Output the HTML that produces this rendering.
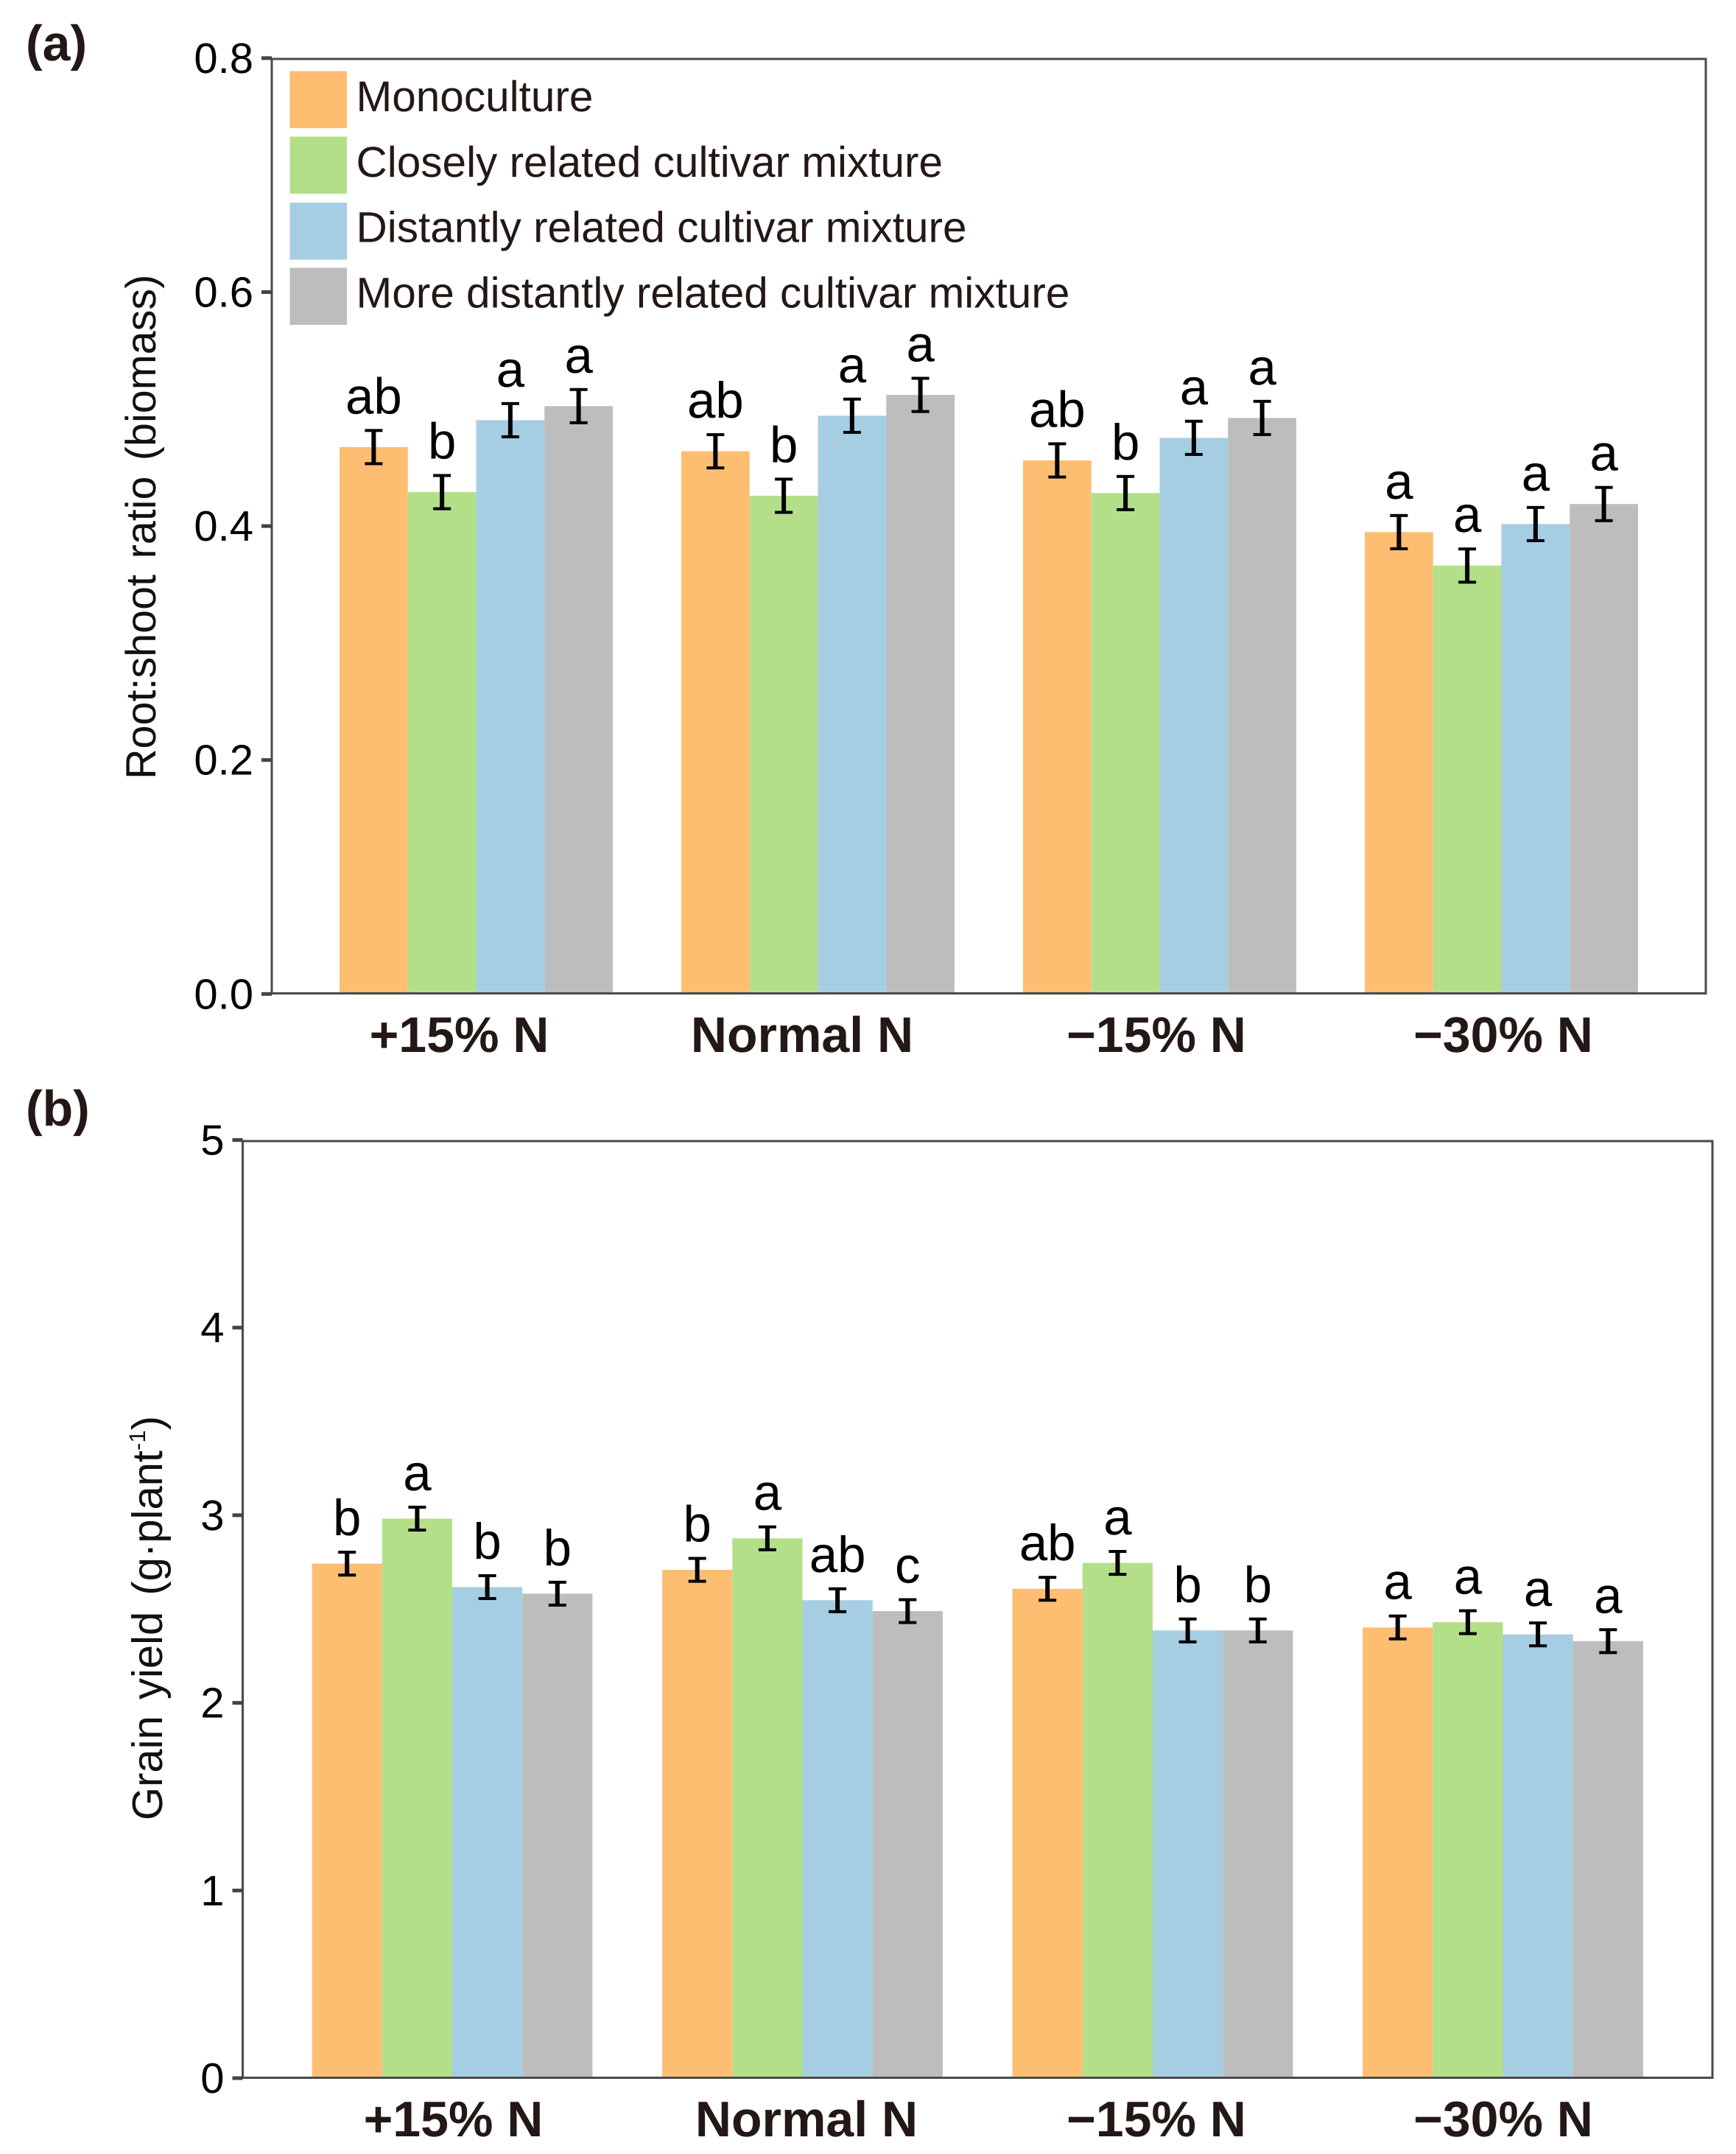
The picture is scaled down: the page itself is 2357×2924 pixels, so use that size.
<!DOCTYPE html>
<html lang="en">
<head>
<meta charset="utf-8">
<title>Root:shoot ratio and grain yield by nitrogen level</title>
<style>
html,body{margin:0;padding:0;background:#fff;}
svg{display:block;}
text{font-family:"Liberation Sans",Arial,sans-serif;text-rendering:geometricPrecision;}
</style>
</head>
<body>
<svg id="figure" xmlns="http://www.w3.org/2000/svg" width="2357" height="2924" viewBox="0 0 2357 2924">
  <rect x="0" y="0" width="2357" height="2924" fill="#fff"/>
  <g id="chart-a"></g>
  <g id="chart-b"></g>

  <text x="35" y="82" font-size="68" font-weight="700" fill="#231815">(a)</text>
  <text x="35" y="1528" font-size="68" font-weight="700" fill="#231815">(b)</text>

  <text transform="translate(211 1058) rotate(-90)" font-size="57.5" word-spacing="5.5" fill="#111">Root:shoot ratio (biomass)</text>
  <text transform="translate(220 2471) rotate(-90)" font-size="58" word-spacing="6" fill="#111">Grain yield (g·plant<tspan font-size="31" dy="-23">-1</tspan><tspan dy="23">)</tspan></text>

  <g>
    <g>
      <rect x="393.5" y="96.5" width="77.5" height="77.5" fill="#FDBE72"/>
      <text x="483.5" y="151" font-size="58.5" fill="#231815">Monoculture</text>
    </g>
    <g>
      <rect x="393.5" y="185.5" width="77.5" height="77.5" fill="#B3DF89"/>
      <text x="483.5" y="240" font-size="58.5" fill="#231815">Closely related cultivar mixture</text>
    </g>
    <g>
      <rect x="393.5" y="275" width="77.5" height="77.5" fill="#A6CEE2"/>
      <text x="483.5" y="328.5" font-size="58.5" fill="#231815">Distantly related cultivar mixture</text>
    </g>
    <g>
      <rect x="393.5" y="363.5" width="77.5" height="77.5" fill="#BDBDBD"/>
      <text x="483.5" y="417.5" font-size="58.5" fill="#231815">More distantly related cultivar mixture</text>
    </g>
  </g>
</svg>

<script>
// Shared categories
var categories = ['+15% N', 'Normal N', '\u221215% N', '\u221230% N'];

// Panel (a): root:shoot ratio, one array per cultivar treatment, one value per N level
var rootShootMonoculture = [0.467, 0.4634, 0.4556, 0.3943];
var rootShootClosely = [0.4285, 0.4254, 0.4277, 0.3657];
var rootShootDistantly = [0.490, 0.4938, 0.4749, 0.4012];
var rootShootMoreDistantly = [0.502, 0.5116, 0.4919, 0.4183];
var rootShootErrors = [0.0142, 0.0142, 0.0142, 0.0142];
var rootShootLetters1 = ['ab', 'ab', 'ab', 'a'];
var rootShootLetters2 = ['b', 'b', 'b', 'a'];
var rootShootLetters3 = ['a', 'a', 'a', 'a'];
var rootShootLetters4 = ['a', 'a', 'a', 'a'];
var rootShootTicks = ['0.0', '0.2', '0.4', '0.6', '0.8'];

// Panel (b): grain yield
var yieldMonoculture = [2.74, 2.707, 2.606, 2.40];
var yieldClosely = [2.98, 2.875, 2.744, 2.428];
var yieldDistantly = [2.615, 2.545, 2.384, 2.363];
var yieldMoreDistantly = [2.58, 2.487, 2.384, 2.327];
var yieldErrors = [0.061, 0.061, 0.061, 0.061];
var yieldLetters1 = ['b', 'b', 'ab', 'a'];
var yieldLetters2 = ['a', 'a', 'a', 'a'];
var yieldLetters3 = ['b', 'ab', 'b', 'a'];
var yieldLetters4 = ['b', 'c', 'b', 'a'];
var yieldTicks = ['0', '1', '2', '3', '4', '5'];

var seriesKeys = ['monoculture', 'closely-related', 'distantly-related', 'more-distantly-related'];
var seriesColors = ['#FDBE72', '#B3DF89', '#A6CEE2', '#BDBDBD'];
var SVGNS = 'http://www.w3.org/2000/svg';

function drawChart(cfg) {
  var root = document.getElementById(cfg.id);

  function xGroup(i) { return cfg.x0 + i * cfg.step; }
  function xBar(i, s) { return xGroup(i) + s * cfg.barW; }
  function yVal(v) { return cfg.base - v * cfg.pxPerUnit; }

  cfg.series.forEach(function (values, s) {
    values.forEach(function (v, i) {
      var bar = document.createElementNS(SVGNS, 'rect');
      
      
      bar.setAttribute('data-series', seriesKeys[s]);
      bar.setAttribute('x', xBar(i, s));
      bar.setAttribute('y', yVal(v));
      bar.setAttribute('width', cfg.barW);
      bar.setAttribute('height', cfg.base - yVal(v));
      bar.setAttribute('fill', seriesColors[s]);
      root.appendChild(bar);
    });
  });

  // plot frame above bars
  var frame = document.createElementNS(SVGNS, 'rect');
  
  
  frame.setAttribute('x', cfg.left);
  frame.setAttribute('y', cfg.top);
  frame.setAttribute('width', cfg.right - cfg.left);
  frame.setAttribute('height', cfg.base - cfg.top);
  frame.setAttribute('fill', 'none');
  frame.setAttribute('stroke', '#4a4a4a');
  frame.setAttribute('stroke-width', '3');
  root.appendChild(frame);

  cfg.ticks.forEach(function (label) {
    var v = parseFloat(label);
    var ty = yVal(v) + cfg.tickShift;
    var tick = document.createElementNS(SVGNS, 'rect');
    
    
    tick.setAttribute('x', cfg.left - 14);
    tick.setAttribute('y', ty - 2.5);
    tick.setAttribute('width', 14);
    tick.setAttribute('height', 5);
    tick.setAttribute('fill', '#444');
    root.appendChild(tick);

    var t = document.createElementNS(SVGNS, 'text');
    
    
    t.setAttribute('x', cfg.left - 25);
    t.setAttribute('y', ty + 20);
    t.setAttribute('text-anchor', 'end');
    t.setAttribute('font-size', '58');
    t.setAttribute('fill', '#000');
    t.textContent = label;
    root.appendChild(t);
  });

  cfg.series.forEach(function (values, s) {
    values.forEach(function (v, i) {
      var cx = xBar(i, s) + cfg.barW / 2;
      var hi = yVal(v + cfg.errors[i]);
      var lo = yVal(v - cfg.errors[i]);

      var stem = document.createElementNS(SVGNS, 'rect');
      
      
      stem.setAttribute('x', cx - 3);
      stem.setAttribute('y', hi);
      stem.setAttribute('width', 6);
      stem.setAttribute('height', lo - hi);
      stem.setAttribute('fill', '#000');
      root.appendChild(stem);

      [hi, lo].forEach(function (yy) {
        var cap = document.createElementNS(SVGNS, 'rect');
        
        
        cap.setAttribute('x', cx - 12);
        cap.setAttribute('y', yy - 2);
        cap.setAttribute('width', 24);
        cap.setAttribute('height', 4);
        cap.setAttribute('fill', '#000');
        root.appendChild(cap);
      });

      var letter = document.createElementNS(SVGNS, 'text');
      
      
      letter.setAttribute('x', cx);
      letter.setAttribute('y', hi - 2 - 21);
      letter.setAttribute('text-anchor', 'middle');
      letter.setAttribute('font-size', '69');
      letter.setAttribute('fill', '#000');
      letter.textContent = cfg.letters[s][i];
      root.appendChild(letter);
    });
  });

  categories.forEach(function (name, i) {
    var g = document.createElementNS(SVGNS, 'text');
    
    
    g.setAttribute('x', xGroup(i) + 2 * cfg.barW + cfg.labelNudge[i]);
    g.setAttribute('y', cfg.labelY);
    g.setAttribute('text-anchor', 'middle');
    g.setAttribute('font-size', '68');
    g.setAttribute('font-weight', '700');
    g.setAttribute('fill', '#231815');
    g.textContent = name;
    root.appendChild(g);
  });
}

drawChart({
  id: 'chart-a',
  x0: 461, step: 464, barW: 92.75,
  base: 1348.5, pxPerUnit: 1588, tickShift: 0.8,
  left: 369, right: 2316, top: 80,
  labelY: 1428, labelNudge: [-23, -21.5, -4.5, 2.5],
  ticks: rootShootTicks,
  series: [rootShootMonoculture, rootShootClosely, rootShootDistantly, rootShootMoreDistantly],
  errors: rootShootErrors,
  letters: [rootShootLetters1, rootShootLetters2, rootShootLetters3, rootShootLetters4]
});

drawChart({
  id: 'chart-b',
  x0: 423.6, step: 475.5, barW: 95.2,
  base: 2820.5, pxPerUnit: 254.7, tickShift: 0.5,
  left: 329.5, right: 2325, top: 1549,
  labelY: 2900, labelNudge: [1.5, 5.5, 5, 0.5],
  ticks: yieldTicks,
  series: [yieldMonoculture, yieldClosely, yieldDistantly, yieldMoreDistantly],
  errors: yieldErrors,
  letters: [yieldLetters1, yieldLetters2, yieldLetters3, yieldLetters4]
});
</script>
</body>
</html>
